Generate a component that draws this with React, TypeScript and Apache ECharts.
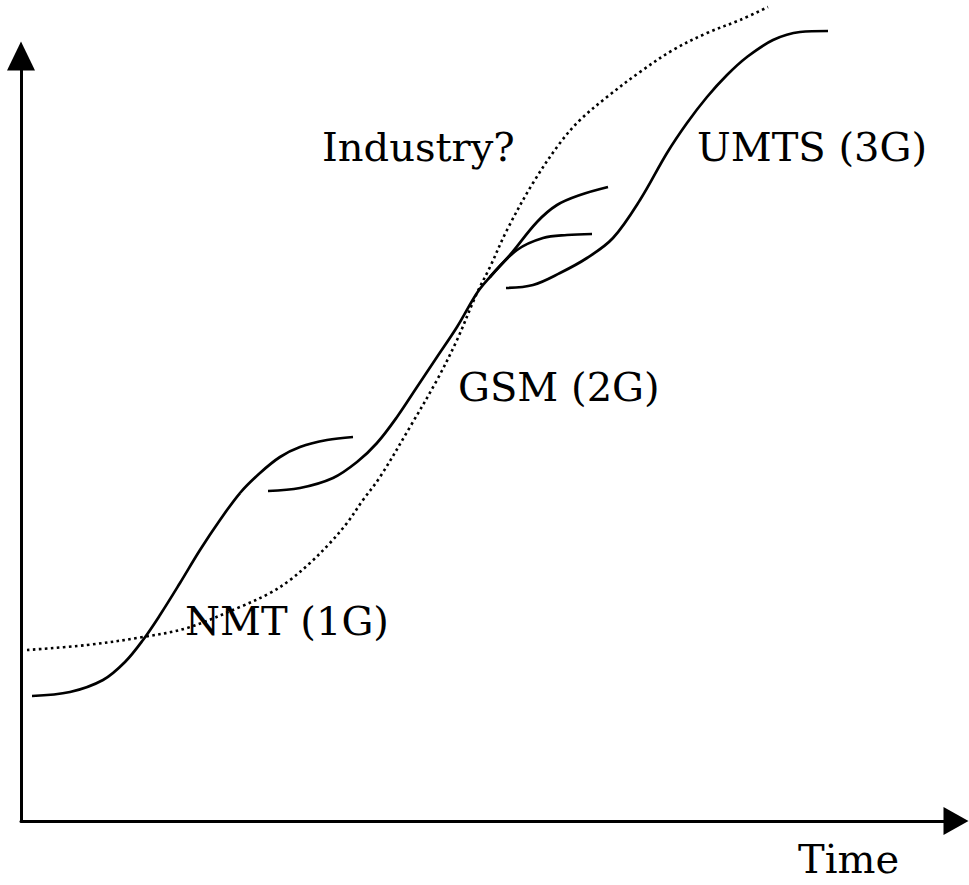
import React, { useEffect, useRef } from "react";
import * as echarts from "echarts";

// x = time units, y = adoption units (axis origin at bottom-left)
const nmtX = [11, 49, 82, 104, 122, 139, 159, 179, 199, 219, 239, 259, 279, 306, 332];
const nmtY = [125, 129, 141, 159, 181, 206, 238, 271, 301, 328, 348, 364, 374, 381, 384];

const gsmX = [247, 279, 312, 336, 356, 376, 396, 416, 436, 456, 469, 489, 516, 536, 559, 587];
const gsmY = [330, 333, 343, 359, 378, 404, 434, 464, 494, 528, 544, 566, 599, 616, 626, 634];

const gsmBranchX = [469, 496, 522, 546, 571];
const gsmBranchY = [544, 571, 583, 586, 587];

const umtsX = [485, 512, 539, 566, 592, 619, 646, 666, 686, 706, 726, 752, 779, 807];
const umtsY = [533, 536, 548, 563, 583, 621, 668, 698, 724, 746, 764, 781, 789, 790];

const industryX = [6, 66, 122, 166, 219, 249, 269, 289, 309, 326, 342, 359, 389, 416, 436, 456, 469, 486, 512, 539, 559, 586, 619, 652, 686, 719, 747];
const industryY = [171, 176, 184, 193, 214, 228, 241, 258, 278, 298, 321, 344, 394, 441, 481, 528, 554, 591, 638, 678, 701, 724, 749, 771, 788, 801, 814];

const labels = ["Industry?", "UMTS (3G)", "GSM (2G)", "NMT (1G)", "Time"];

const zip = (xs: number[], ys: number[]) => xs.map((x, i) => [x, ys[i]]);

export default function App() {
  const ref = useRef<HTMLDivElement>(null);
  useEffect(() => {
    const chart = echarts.init(ref.current!, null, { renderer: "svg" });
    const font = '40px "DejaVu Serif"';
    const solid = (name: string, xs: number[], ys: number[]) => ({
      name,
      type: "line",
      data: zip(xs, ys),
      smooth: 0.35,
      showSymbol: false,
      clip: false,
      lineStyle: { color: "#000", width: 2.7 },
      silent: true,
    });
    const axisCommon = {
      type: "value",
      axisTick: { show: false },
      axisLabel: { show: false },
      splitLine: { show: false },
    };
    chart.setOption({
      animation: false,
      backgroundColor: "#fff",
      grid: { left: 21, top: 56, width: 935, height: 765 },
      xAxis: {
        ...axisCommon,
        min: 0,
        max: 935,
        axisLine: {
          show: true,
          lineStyle: { color: "#000", width: 3 },
          symbol: ["none", "triangle"],
          symbolSize: [28, 25],
        },
      },
      yAxis: {
        ...axisCommon,
        min: 0,
        max: 765,
        axisLine: {
          show: true,
          lineStyle: { color: "#000", width: 3 },
          symbol: ["none", "triangle"],
          symbolSize: [28, 29],
        },
      },
      series: [
        solid("NMT (1G)", nmtX, nmtY),
        solid("GSM (2G)", gsmX, gsmY),
        solid("GSM (2G) branch", gsmBranchX, gsmBranchY),
        solid("UMTS (3G)", umtsX, umtsY),
        {
          name: "Industry?",
          type: "line",
          data: zip(industryX, industryY),
          smooth: 0.35,
          showSymbol: false,
          clip: false,
          silent: true,
          lineStyle: { color: "#000", width: 2.6, type: [2.6, 3.4] },
        },
      ],
      graphic: [
        { type: "text", left: 322, top: 127, style: { text: labels[0], font, fill: "#000" } },
        { type: "text", left: 697, top: 127, style: { text: labels[1], font, fill: "#000" } },
        { type: "text", left: 458, top: 367, style: { text: labels[2], font, fill: "#000" } },
        { type: "text", left: 185, top: 601, style: { text: labels[3], font, fill: "#000" } },
        { type: "text", left: 798, top: 839, style: { text: labels[4], font, fill: "#000" } },
      ],
    });
    return () => chart.dispose();
  }, []);
  return (
    <div
      ref={ref}
      style={{ position: "fixed", left: 0, top: 0, width: 969, height: 885, background: "#fff" }}
    />
  );
}
